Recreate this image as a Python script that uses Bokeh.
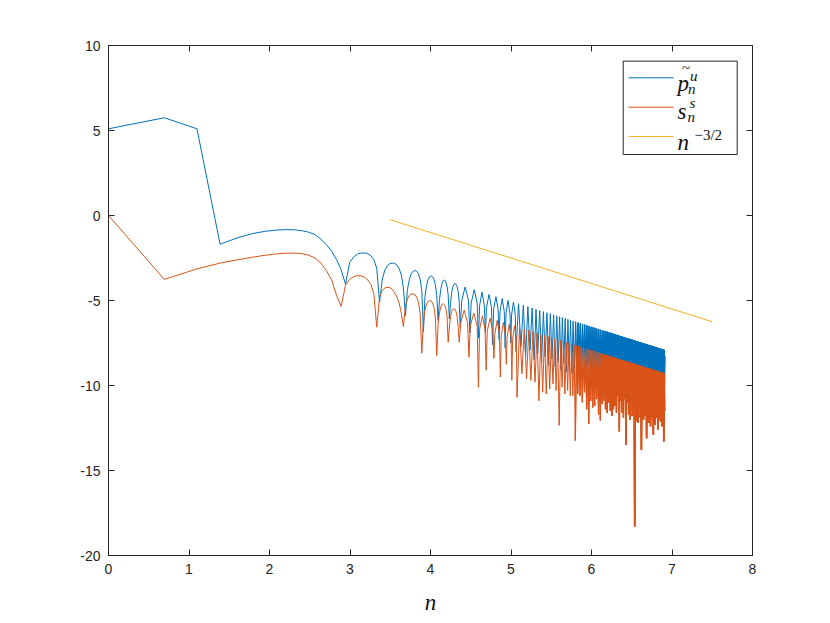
import numpy as np
from bokeh.plotting import figure
from bokeh.models import LinearAxis, FixedTicker, Range1d, ColumnDataSource
from bokeh.embed import file_html
from bokeh.resources import INLINE
from bokeh.core.properties import value

BLUE = "#0072BD"
ORANGE = "#D95319"
YELLOW = "#EDB120"
AX = "#262626"

# ---------------- data (x axis is log n) ----------------
x_ticks = [0, 1, 2, 3, 4, 5, 6, 7, 8]
y_ticks = [-20, -15, -10, -5, 0, 5, 10]

# blue series  (p~_n^u): one value per n for n = 1..79
blue_head_n = list(range(1, 80))
blue_head_y = [5.10, 5.75, 5.10, -1.69, -1.30, -1.06, -0.93, -0.86, -0.83, -0.84,
               -0.89, -0.98, -1.12, -1.40, -1.72, -2.10, -2.60, -3.20, -4.05, -2.75,
               -2.45, -2.27, -2.21, -2.20, -2.24, -2.36, -2.60, -3.10, -5.10, -3.75,
               -3.20, -2.95, -2.83, -2.80, -2.82, -2.92, -3.12, -3.50, -4.25, -5.88,
               -4.35, -3.75, -3.42, -3.28, -3.24, -3.28, -3.42, -3.75, -4.40, -6.86,
               -4.75, -4.10, -3.76, -3.60, -3.55, -3.60, -3.76, -4.08, -4.70, -6.18,
               -5.00, -4.35, -4.00, -3.82, -3.80, -3.90, -4.15, -4.65, -6.08, -5.20,
               -4.55, -4.22, -4.05, -4.01, -4.04, -4.18, -4.48, -5.10, -6.60]
# blue arches beyond n = 79, read as vertices (shoulders / peaks / cusps)
blue_tail_n = [80.5, 84, 87.5, 89, 90.5, 94, 97.5, 99, 100.5, 103.5, 106.5, 108,
               109.5, 113, 116.5, 118, 119.5, 123, 126.5, 128, 129.5, 133, 136.5, 138,
               139.5, 143, 146.5, 148, 149.5, 153, 156.5, 158,
               163, 168, 173, 178, 183, 188, 193, 198, 202.5, 207, 212, 217, 222, 227,
               232, 237, 242, 247, 252, 257, 262, 267, 271.5, 276, 281, 286, 291, 296,
               301, 306, 311, 316, 321, 326, 331, 336, 341,
               346, 351, 356, 361, 366, 371, 376, 381, 386, 391, 396, 401, 406, 411,
               416, 421, 426, 431, 436, 441, 446, 451, 456, 461, 466, 471, 476, 481,
               486, 491, 496, 501, 506, 511, 516, 521, 526, 531, 536, 541, 546, 551,
               556, 561, 566, 571, 576, 581, 586, 591, 596, 601, 606, 611, 616, 621,
               626, 631, 636, 641, 646, 651, 656, 661, 666, 671, 676, 681, 686, 691,
               696, 701, 706, 711, 716, 721, 726, 731, 736, 741, 746, 751, 756, 761,
               766, 771, 776, 781, 786, 791, 796, 801, 806, 811, 816, 821, 826, 831,
               836, 841, 846, 851, 856, 861, 866, 871, 876, 881, 886, 891, 896, 901,
               906, 911, 916, 921, 926, 931, 936, 941, 946, 951, 956, 961, 966, 971,
               976, 981, 986, 991, 996, 1000]
blue_tail_y = [-5.0, -4.20, -5.0, -6.9, -5.15, -4.36, -5.15, -7.2, -5.3, -4.51, -5.3, -6.9,
               -5.4, -4.64, -5.4, -7.6, -5.55, -4.77, -5.55, -7.3, -5.65, -4.89, -5.65, -7.8,
               -5.75, -4.99, -5.75, -7.5, -5.85, -5.10, -5.85, -8.0,
               -5.19, -7.7, -5.28, -8.3, -5.36, -7.9, -5.44, -8.5, -5.52, -8.1, -5.59, -8.6,
               -5.65, -8.3, -5.72, -8.8, -5.78, -8.4, -5.84, -8.9, -5.90, -8.6, -5.96, -9.1,
               -6.01, -8.7, -6.06, -9.2, -6.11, -8.9, -6.16, -9.3, -6.21, -9.0, -6.25, -9.4,
               -6.30,
               -8.8, -6.34, -9.1, -6.38, -8.8, -6.42, -9.1, -6.46, -8.8, -6.50, -9.1, -6.54,
               -8.9, -6.58, -9.2, -6.61, -8.9, -6.65, -9.2, -6.68, -8.9, -6.72, -9.3, -6.75,
               -9.0, -6.78, -9.3, -6.81, -9.0, -6.84, -9.3, -6.88, -9.1, -6.90, -9.4, -6.93,
               -9.1, -6.96, -9.4, -6.99, -9.2, -7.02,
               -9.3, -7.04, -9.6, -7.07, -9.4, -7.10, -9.7, -7.12, -9.3, -7.15, -9.6, -7.17,
               -9.4, -7.20, -9.7, -7.22, -9.4, -7.24, -9.6, -7.27, -9.5, -7.29, -9.8, -7.31,
               -9.5, -7.34, -9.7, -7.36, -9.5, -7.38, -9.8, -7.40, -9.6, -7.42, -9.8, -7.44,
               -9.6, -7.46, -9.9, -7.48, -9.6, -7.50, -9.9, -7.52, -9.7, -7.54, -9.9, -7.56,
               -9.7, -7.58, -10.0, -7.60, -9.8, -7.62, -10.0, -7.63, -9.8, -7.65, -10.1, -7.67,
               -9.8, -7.69, -10.1, -7.70, -9.9, -7.72, -10.1, -7.74, -9.9, -7.76, -10.2, -7.77,
               -10.0, -7.79, -10.2, -7.80, -10.0, -7.82, -10.3, -7.84, -10.0, -7.85, -10.3, -7.87,
               -10.1, -7.88, -10.3, -7.90, -10.1, -8.3]

# orange series (s_n^s): one value per n for n = 1..78
orange_head_n = list(range(1, 79))
orange_head_y = [0.00, -3.76, -3.14, -2.80, -2.60, -2.45, -2.34, -2.26, -2.22, -2.21,
                 -2.24, -2.33, -2.50, -2.80, -3.25, -3.80, -4.70, -5.35, -4.10, -3.75,
                 -3.60, -3.54, -3.55, -3.62, -3.78, -4.05, -4.60, -6.57, -4.80, -4.40,
                 -4.26, -4.22, -4.25, -4.35, -4.55, -4.80, -5.15, -5.75, -6.53, -5.30,
                 -4.92, -4.70, -4.62, -4.61, -4.66, -4.80, -5.10, -5.75, -8.10, -6.30,
                 -5.55, -5.20, -5.05, -5.00, -5.03, -5.14, -5.40, -6.00, -8.24, -6.40,
                 -5.75, -5.38, -5.22, -5.20, -5.27, -5.45, -5.85, -7.45, -6.55, -5.95,
                 -5.65, -5.52, -5.49, -5.52, -5.65, -5.95, -6.60, -7.45]
# orange arches beyond n = 78, read as vertices (shoulders / peaks / cusps)
orange_tail_n = [79.5, 83, 86.5, 88, 89.5, 93.5, 97.5, 99, 100.5, 104, 107.5, 109,
                 110.5, 114.5, 118.5, 120, 121.5, 125, 128.5, 130, 131.5, 135, 138.5, 140,
                 141.5, 145, 148.5, 150, 151.5, 155, 158.5, 160,
                 165, 170, 175, 180, 185, 190, 195, 200, 205, 210, 215, 220, 225, 230,
                 235, 240, 245, 250, 255, 260, 265, 270, 275, 280, 285, 290, 295, 300,
                 305, 310, 315, 320, 325, 330, 335, 340,
                 345, 350, 355, 360, 365, 370, 375, 380, 385, 390, 395, 400, 405, 410,
                 415, 420, 425, 430, 435, 440, 445, 450, 455, 460, 465, 470, 475, 480,
                 485, 490, 495, 500, 505, 510, 515, 520, 525, 530, 535, 540, 545, 550,
                 555, 560, 565, 570, 575, 580, 585, 590, 595, 600, 605, 610, 615, 620,
                 625, 630, 635, 640, 645, 650, 655, 660, 665, 670, 675, 680, 685, 690,
                 695, 700, 705, 710, 715, 720, 725, 730, 735, 740, 745, 750, 755, 760,
                 765, 770, 775, 780, 785, 790, 795, 800, 805, 810, 815, 820, 825, 830,
                 835, 840, 845, 850, 855, 860, 865, 870, 875, 880, 885, 890, 895, 900,
                 905, 910, 915, 920, 925, 930, 935, 940, 945, 950, 955, 960, 965, 970,
                 975, 980, 985, 990, 995, 1000]
orange_tail_y = [-6.3, -5.56, -6.3, -8.33, -6.5, -5.74, -6.5, -10.1, -6.7, -5.90, -6.7, -9.1,
                 -6.8, -6.04, -6.8, -8.4, -6.95, -6.17, -6.95, -9.5, -7.05, -6.29, -7.05, -8.76,
                 -7.15, -6.40, -7.15, -9.7, -7.25, -6.49, -7.25, -10.7,
                 -6.59, -9.3, -6.68, -9.6, -6.76, -9.7, -6.84, -9.8, -6.91, -10.9, -6.99, -10.4,
                 -7.05, -10.5, -7.12, -10.2, -7.18, -9.9, -7.24, -10.3, -7.30, -12.35, -7.36, -10.1,
                 -7.41, -10.5, -7.46, -10.3, -7.51, -10.6, -7.56, -10.6, -7.61, -13.24, -7.65, -10.5,
                 -7.70, -10.6, -7.74, -11.0, -7.78, -10.4, -7.82, -11.4, -7.86, -12.25, -7.90, -10.9,
                 -7.94, -11.3, -7.97, -11.2, -8.01, -10.8, -8.04, -11.7, -8.08, -12.06, -8.11, -11.1,
                 -8.14, -10.9, -8.17, -11.4, -8.21, -11.6, -8.24, -11.0, -8.27, -11.5, -8.30, -11.8,
                 -8.32, -11.4, -8.35, -11.2, -8.38, -11.6,
                 -8.41, -10.6, -8.44, -12.7, -8.46, -10.9, -8.49, -11.6, -8.51, -11.9, -8.54, -10.8,
                 -8.56, -13.5, -8.59, -11.0, -8.61, -11.7, -8.63, -12.0, -8.66, -10.9, -8.68, -11.8,
                 -8.70, -11.0, -8.72, -18.3, -8.75, -11.1, -8.77, -12.1, -8.79, -12.2, -8.81, -11.1,
                 -8.83, -11.9, -8.85, -13.8, -8.87, -11.2, -8.89, -12.0, -8.91, -11.8, -8.93, -11.2,
                 -8.95, -13.1, -8.97, -11.3, -8.98, -12.2, -9.00, -11.3, -9.02, -12.4, -9.04, -11.9,
                 -9.06, -11.4, -9.07, -12.9, -9.09, -11.4, -9.11, -12.3, -9.13, -11.9, -9.14, -11.4,
                 -9.16, -12.6, -9.17, -12.0, -9.19, -11.5, -9.21, -12.1, -9.22, -11.5, -9.24, -12.4,
                 -9.25, -11.6, -9.27, -13.3, -9.28, -11.5]

# reference slope n^{-3/2}
ref_x = [3.5, 7.5]
ref_y = [-0.25, -6.25]

# ---------------- figure ----------------
p = figure(frame_width=644, frame_height=510,
           x_range=Range1d(0, 8), y_range=Range1d(-20, 10),
           output_backend="svg", toolbar_location=None,
           min_border_left=108, min_border_right=62,
           min_border_top=45, min_border_bottom=52,
           background_fill_color="white", border_fill_color="white")
p.xgrid.visible = False
p.ygrid.visible = False
p.outline_line_color = AX
p.outline_line_width = 1

def style_axis(ax, ticks, labels=True):
    ax.ticker = FixedTicker(ticks=ticks)
    ax.axis_line_color = AX
    ax.major_tick_line_color = AX
    ax.major_tick_in = 6
    ax.major_tick_out = 0
    ax.minor_tick_in = 0
    ax.minor_tick_out = 0
    ax.minor_tick_line_color = None
    if labels:
        ax.major_label_text_font = "Liberation Sans"
        ax.major_label_text_font_size = "14px"
        ax.major_label_text_color = AX
        ax.major_label_overrides = {t: str(t) for t in ticks}
    else:
        ax.major_label_text_color = None

style_axis(p.xaxis[0], x_ticks)
style_axis(p.yaxis[0], y_ticks)
p.xaxis[0].major_label_standoff = 8
p.yaxis[0].major_label_standoff = 8
p.xaxis[0].axis_label = "n"
p.xaxis[0].axis_label_text_font = "Liberation Serif"
p.xaxis[0].axis_label_text_font_style = "italic"
p.xaxis[0].axis_label_text_font_size = "23px"
p.xaxis[0].axis_label_text_color = "#111111"
p.xaxis[0].axis_label_standoff = 13

top_ax = LinearAxis()
style_axis(top_ax, x_ticks, labels=False)
p.add_layout(top_ax, "above")
right_ax = LinearAxis()
style_axis(right_ax, y_ticks, labels=False)
p.add_layout(right_ax, "right")

# stroke weights for the increasingly dense end of each series
tiers = [(0, 1.0), (330, 1.25), (480, 1.5), (650, 1.75)]

def draw_series(n_vals, y_vals, color):
    n_arr = np.array(n_vals, dtype=float)
    y_arr = np.array(y_vals)
    for start, width in tiers:
        m = n_arr >= start
        p.line(np.log(n_arr[m]), y_arr[m], line_color=color, line_width=width)

draw_series(blue_head_n + blue_tail_n, blue_head_y + blue_tail_y, BLUE)
draw_series(orange_head_n + orange_tail_n, orange_head_y + orange_tail_y, ORANGE)

# reference line
p.line(ref_x, ref_y, line_color=YELLOW, line_width=1)

# ---------------- legend (drawn by hand for the math labels) ----------------
p.quad(left=[6.394], right=[7.81], top=[9.08], bottom=[3.59],
       fill_color="white", line_color=AX, line_width=1)
rows = [8.10, 6.37, 4.65]
p.segment(x0=[6.46] * 3, x1=[7.02] * 3, y0=rows, y1=rows,
          line_color=[BLUE, ORANGE, YELLOW], line_width=1)

FONT = value("Liberation Serif")
main_src = ColumnDataSource(dict(x=[7.068] * 3, y=rows, t=["p", "s", "n"],
                                 dy=[5.7, 4.0, 5.7]))
p.text(x="x", y="y", text="t", y_offset="dy", source=main_src,
       text_font=FONT, text_font_style="italic",
       text_font_size=value("23px"), text_baseline="alphabetic", text_align="left",
       text_color="#111111")
sup_src = ColumnDataSource(dict(x=[7.068] * 2, y=rows[:2], t=["u", "s"],
                                dx=[12.5, 12.0], dy=[-2.3, -4.0]))
p.text(x="x", y="y", text="t", x_offset="dx", y_offset="dy", source=sup_src,
       text_font=FONT, text_font_style="italic",
       text_font_size=value("15px"), text_baseline="alphabetic", text_align="left",
       text_color="#111111")
sub_src = ColumnDataSource(dict(x=[7.068] * 2, y=rows[:2], t=["n", "n"],
                                dx=[10.5, 10.0], dy=[11.2, 9.5]))
p.text(x="x", y="y", text="t", x_offset="dx", y_offset="dy", source=sub_src,
       text_font=FONT, text_font_style="italic",
       text_font_size=value("15px"), text_baseline="alphabetic", text_align="left",
       text_color="#111111")
p.text(x=[7.068], y=[rows[2]], text=["\u22123/2"], x_offset=17.0, y_offset=-1.0,
       text_font=FONT, text_font_size=value("15px"),
       text_baseline="alphabetic", text_align="left", text_color="#111111")
p.text(x=[7.068], y=[rows[0]], text=["~"], x_offset=8.5, y_offset=-9.5,
       text_font=FONT, text_font_size=value("15px"),
       text_baseline="alphabetic", text_align="center", text_color="#111111")

open("out.html", "w").write(file_html(p, INLINE))
